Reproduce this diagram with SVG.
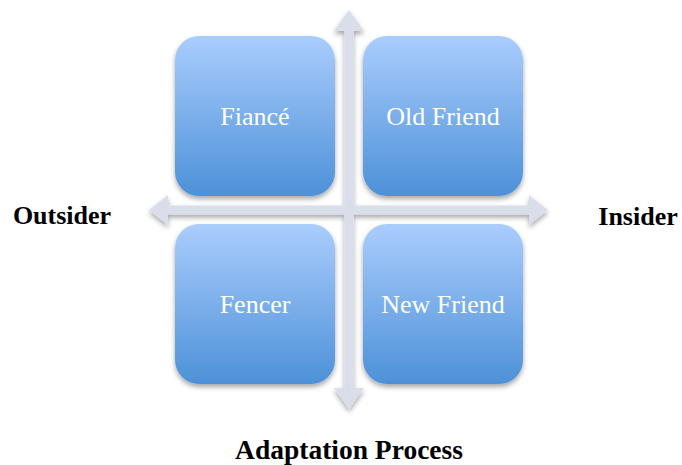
<svg xmlns="http://www.w3.org/2000/svg" width="682" height="465" viewBox="0 0 682 465">
  <defs>
    <linearGradient id="boxFill" x1="0" y1="0" x2="0" y2="1">
      <stop offset="0" stop-color="#aacdfd"/>
      <stop offset="1" stop-color="#4d91d8"/>
    </linearGradient>
    <filter id="shadow" x="-20%" y="-20%" width="140%" height="140%">
      <feDropShadow dx="0" dy="3" stdDeviation="2.5" flood-color="#000" flood-opacity="0.35"/>
    </filter>
  </defs>
  <style>
    .box { fill: url(#boxFill); filter: url(#shadow); }
    .boxlabel { font-family: "Liberation Serif", "Times New Roman", serif; font-size: 26px; fill: #ffffff; text-anchor: middle; }
    .axis { fill: #d9deea; }
    .axislabel { font-family: "Liberation Serif", "Times New Roman", serif; font-size: 26px; font-weight: bold; fill: #000000; text-anchor: middle; }
  </style>

  <!-- quadrant tiles -->
  <g id="fiance">
    <rect class="box" x="175" y="36" width="160" height="160" rx="24"/>
    <text class="boxlabel" x="255" y="125">Fiancé</text>
  </g>
  <g id="old-friend">
    <rect class="box" x="363" y="36" width="160" height="160" rx="24"/>
    <text class="boxlabel" x="443" y="125">Old Friend</text>
  </g>
  <g id="fencer">
    <rect class="box" x="175" y="224" width="160" height="160" rx="24"/>
    <text class="boxlabel" x="255" y="313">Fencer</text>
  </g>
  <g id="new-friend">
    <rect class="box" x="363" y="224" width="160" height="160" rx="24"/>
    <text class="boxlabel" x="443" y="313">New Friend</text>
  </g>

  <!-- crossing double-headed axes -->
  <g id="connectors" filter="url(#shadow)">
    <polygon class="axis" points="349,10 364,31 353.5,31 353.5,388 364,388 349,409 334,388 344.5,388 344.5,31 334,31"/>
    <polygon class="axis" points="149,210 168,195 168,205.5 529,205.5 529,195 548,210 529,225 529,214.5 168,214.5 168,225"/>
  </g>

  <!-- axis labels -->
  <g id="outsider">
    <text class="axislabel" x="62" y="224">Outsider</text>
  </g>
  <g id="insider">
    <text class="axislabel" x="638" y="225">Insider</text>
  </g>
  <g id="adaptation-process">
    <text class="axislabel" x="349" y="459" style="font-size:27.5px">Adaptation Process</text>
  </g>
</svg>
